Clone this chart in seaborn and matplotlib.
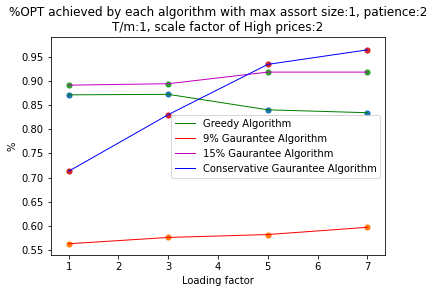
import numpy as np
import pandas as pd
import matplotlib
matplotlib.use('Agg')
import matplotlib.pyplot as plt
import seaborn as sns

loading = [1, 3, 5, 7]
greedy = [0.871, 0.872, 0.840, 0.834]
g9 = [0.563, 0.576, 0.582, 0.597]
g15 = [0.891, 0.894, 0.918, 0.918]
conservative = [0.713, 0.830, 0.934, 0.964]

series = [
    ('Greedy Algorithm', greedy, 'g'),
    ('9% Gaurantee Algorithm', g9, 'r'),
    ('15% Gaurantee Algorithm', g15, 'm'),
    ('Conservative Gaurantee Algorithm', conservative, 'b'),
]

fig = plt.figure(figsize=(434 / 72, 293 / 72), dpi=72)
ax = fig.add_axes([0.1168, 0.1297, 0.771, 0.743])

# lines on top, scatter dots (default colour cycle) underneath
for i, (name, vals, c) in enumerate(series):
    sns.lineplot(x=loading, y=vals, color=c, linewidth=1, label=name, ax=ax)
    sns.scatterplot(x=loading, y=vals, color='C%d' % i, s=38, linewidth=0, ax=ax, zorder=1)

ax.set_xlim(0.638, 7.36)
ax.set_ylim(0.5397, 0.990)
ax.set_yticks(np.arange(0.55, 0.951, 0.05))
ax.set_xlabel('Loading factor')
ax.set_ylabel('%')
ax.set_title('%OPT achieved by each algorithm with max assort size:1, patience:2\n'
             'T/m:1, scale factor of High prices:2')
ax.legend(loc='best')

fig.savefig('out.png', dpi=72)
